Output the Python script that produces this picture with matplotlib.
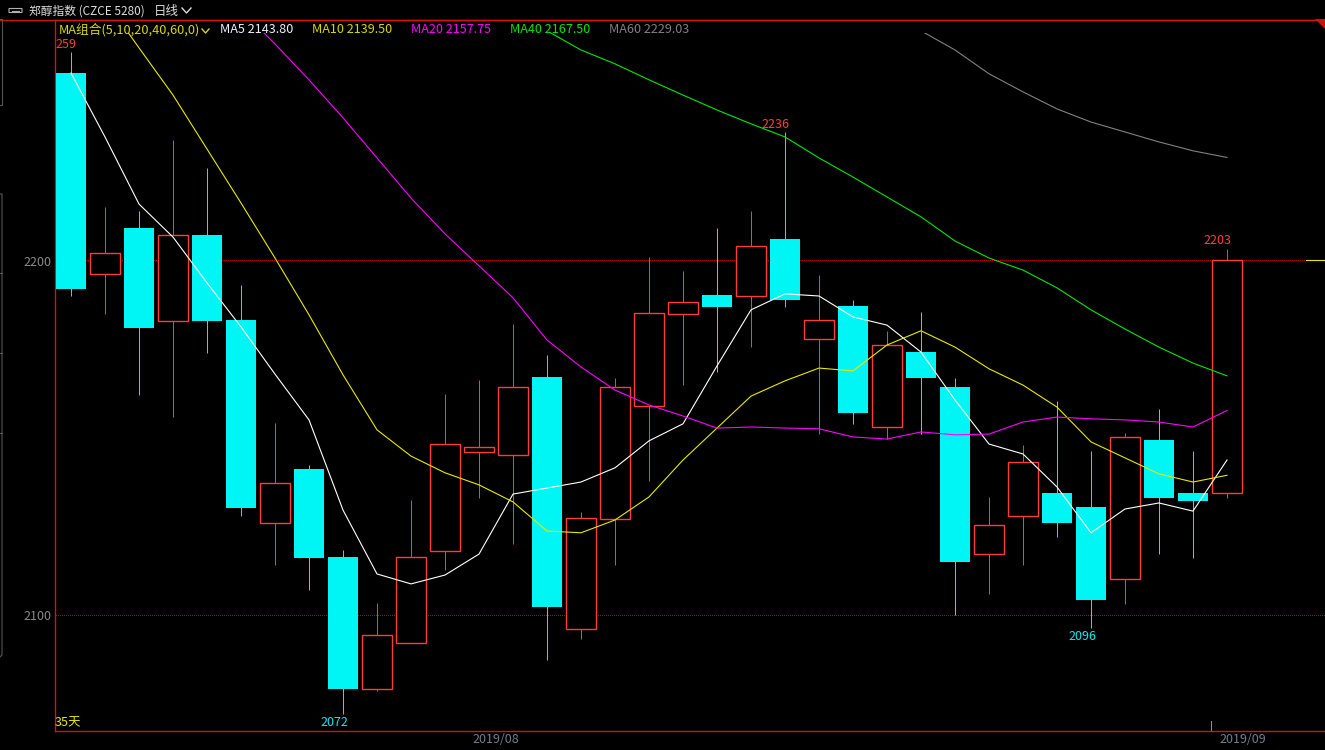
import matplotlib
matplotlib.use("Agg")
import matplotlib.pyplot as plt
from matplotlib.patches import Rectangle, Polygon, FancyBboxPatch

plt.rcParams['font.family'] = ['Noto Sans CJK SC', 'DejaVu Sans']

highs = [2258.7,2215.1,2214.0,2234.0,2226.1,2193.1,2154.2,2142.4,2118.5,2103.5,2132.5,2162.4,2166.4,2182.1,2173.4,2129.2,2166.9,2201.0,2197.1,2209.2,2214.0,2236.2,2195.9,2188.9,2180.2,2185.5,2166.9,2133.4,2148.0,2160.4,2146.4,2151.4,2158.2,2146.4,2203.3]
lows = [2190.0,2184.9,2162.1,2155.9,2174.0,2128.0,2114.2,2107.2,2072.3,2078.7,2092.3,2112.8,2133.1,2120.2,2087.5,2093.4,2114.2,2137.9,2164.9,2168.6,2175.6,2186.9,2151.1,2154.0,2149.7,2151.1,2100.2,2106.1,2114.2,2122.1,2096.5,2103.3,2117.3,2116.2,2133.1]
opens = [2252.8,2196.2,2209.2,2183.0,2207.2,2183.3,2126.1,2141.3,2116.5,2079.3,2092.3,2118.2,2146.1,2145.2,2167.2,2096.2,2127.2,2159.0,2184.9,2190.3,2190.0,2206.1,2177.9,2187.2,2153.1,2174.2,2164.4,2117.3,2128.0,2134.5,2130.6,2110.3,2149.5,2134.5,2134.5]
closes = [2192.0,2202.1,2181.0,2207.2,2183.0,2130.3,2137.3,2116.2,2079.3,2094.5,2116.5,2148.3,2147.5,2164.4,2102.4,2127.5,2164.4,2185.2,2188.3,2186.9,2204.1,2188.9,2183.3,2157.1,2176.2,2166.9,2115.1,2125.5,2143.3,2126.1,2104.4,2150.3,2133.1,2132.3,2200.2]

ma5 = [2252.8,2234.8,2215.9,2206.6,2193.7,2181.3,2168.0,2155.1,2129.7,2111.7,2108.9,2111.4,2117.3,2134.2,2135.9,2137.6,2141.6,2149.2,2154.0,2170.3,2186.1,2190.6,2190.0,2184.1,2181.8,2174.2,2160.7,2148.3,2145.5,2136.2,2123.3,2130.0,2131.7,2129.4,2143.80]
ma10 = [None,2273.4,2259.9,2246.6,2231.4,2216.2,2200.7,2184.7,2167.8,2152.3,2144.9,2140.2,2136.8,2132.0,2123.8,2123.3,2126.9,2133.4,2143.8,2152.8,2161.8,2166.1,2169.7,2168.9,2176.2,2180.2,2175.6,2169.5,2164.9,2158.7,2148.9,2144.4,2139.9,2137.6,2139.50]
ma20 = [None]*5 + [2270.6,2261.0,2250.9,2240.2,2228.9,2217.6,2207.5,2198.5,2189.5,2177.6,2170.0,2163.5,2159.3,2156.2,2152.8,2153.1,2152.8,2152.6,2150.3,2149.7,2151.7,2150.9,2151.1,2154.5,2155.9,2155.4,2155.1,2154.5,2153.1,2157.75]
ma40 = [None]*14 + [2264.7,2259.3,2255.4,2250.9,2246.6,2242.4,2238.5,2234.8,2228.9,2223.5,2217.9,2212.3,2205.5,2200.7,2197.3,2192.3,2186.1,2180.7,2175.6,2171.1,2167.50]
ma60 = [None]*25 + [2264.7,2259.3,2252.6,2247.5,2242.7,2239.0,2236.2,2233.4,2230.9,2229.03]

hlines = [2200, 2100]
title = "郑醇指数 (CZCE 5280)"
period = "日线"
date_labels = ["2019/08", "2019/09"]
date_pos = [12.5, 34.47]
peak_labels = [(0, 2258.7, "259", "#ff3c3c"), (21, 2236.2, "2236", "#ff3c3c"), (34, 2203.3, "2203", "#ff3c3c")]
trough_labels = [(8, 2072.3, "2072", "#00f0f0"), (30, 2096.5, "2096", "#00f0f0")]

W, H = 1325, 750
CY, RD = "#00f5f5", "#ff3c3c"
fig = plt.figure(figsize=(W/100, H/100), dpi=100, facecolor="black")
L, T, B = 54.5, 19.5, 730.5
ax = fig.add_axes([L/W, 1-B/H, (W-L)/W, (B-T)/H], facecolor="black")
ax.set_xlim((L-71)/34, (W-71)/34)
ax.set_ylim(2200-(B-260.5)/3.55, 2200+(260.5-T)/3.55)
px = 0.72
ax.spines["right"].set_visible(False)
for s in ("left", "top", "bottom"):
    ax.spines[s].set_color("#d01414")
    ax.spines[s].set_linewidth(1.0)
ax.set_yticks(hlines)
ax.set_yticklabels([str(v) for v in hlines], color="#8a8a8a", fontsize=9)
ax.tick_params(axis="y", length=0, pad=2)
ax.set_xticks(date_pos)
ax.set_xticklabels(date_labels, color="#6f7f8a", fontsize=9)
ax.tick_params(axis="x", length=0, pad=2)

for v in hlines:
    gl = ax.axhline(v, color="#c00000", lw=px, ls=(0.5, (1, 1)), zorder=1)
    gl.set_snap(False)

xs = list(range(len(opens)))
for i in xs:
    up = closes[i] > opens[i]
    c = RD if up else CY
    ax.vlines(i, lows[i], highs[i], color=c if up else "#28dede", lw=px, zorder=2)
    top, bot = max(opens[i], closes[i]), min(opens[i], closes[i])
    ax.bar(i, top-bot, bottom=bot, width=0.9 if up else 0.91,
           facecolor="black" if up else CY, edgecolor=c, linewidth=1.0 if up else 0, zorder=3)

clip = Rectangle((-1, 2000), 40, 264.1, transform=ax.transData)
series = [(ma5, "#ffffff"), (ma10, "#e8e800"), (ma20, "#ff00ff"), (ma40, "#00e800"), (ma60, "#808080")]
for vals, col in series:
    pts = [(i, v) for i, v in enumerate(vals) if v is not None]
    line, = ax.plot([p[0] for p in pts], [p[1] for p in pts], color=col, lw=0.8, zorder=5)
    line.set_clip_path(clip)

for i, v, s, c in peak_labels:
    ax.annotate(s, (i, v), xytext=(-4 if i == 0 else -6.5, 1), textcoords="offset points",
                ha="center", va="bottom", color=c, fontsize=9, zorder=6)
for i, v, s, c in trough_labels:
    ax.annotate(s, (i, v), xytext=(-6.5, -1.5), textcoords="offset points",
                ha="center", va="top", color=c, fontsize=9, zorder=6)

def ftext(x, y, s, color, size=9, **kw):
    fig.text(x/W, 1-(y+1.5)/H, s, color=color, fontsize=size, va="center", **kw)

ftext(29, 9.5, title, "#dcdcdc", 8.5)
ftext(154, 9.5, period, "#dcdcdc", 9)
ftext(59, 28, "MA组合(5,10,20,40,60,0)", "#d8d800", 9.2)
legend = [(220, "MA5", ma5, "#e8f4ff"), (312, "MA10", ma10, "#d8d800"), (411, "MA20", ma20, "#ff00ff"),
          (510, "MA40", ma40, "#00e800"), (609, "MA60", ma60, "#808080")]
for x, name, vals, col in legend:
    ftext(x, 28, f"{name} {vals[-1]:.2f}", col, 9.1)
ftext(55, 721, "35天", "#e8e800", 9)

def seg(xa, ya, col, lw=0.8):
    fig.add_artist(plt.Line2D([a/W for a in xa], [1-b/H for b in ya], color=col, lw=lw))

seg([182, 186.5, 191], [8, 13, 8], "#dcdcdc", 1.0)
seg([202, 205.5, 209], [29, 33, 29], "#d8d800", 1.0)
fig.add_artist(FancyBboxPatch((9/W, 1-12.5/H), 13/W, 4/H, boxstyle="round,pad=0",
                              transform=fig.transFigure, facecolor="none", edgecolor="#b0b0b0", linewidth=0.8))
seg([12, 19], [10.5, 10.5], "#b0b0b0")
seg([1210.5, 1210.5], [721, 730], "#8a8a8a")
seg([1306, 1325], [260.5, 260.5], "#e8e800")
seg([0, 1325], [19.5, 19.5], "#d01414", 1.0)
fig.add_artist(Polygon([(1315/W, 1-19/H), (1325/W, 1-19/H), (1325/W, 1-29/H)], closed=True,
                       transform=fig.transFigure, facecolor="#c81400", edgecolor="none"))
seg([0, 2, 2, 0], [19, 19, 105, 105], "#555555")
seg([0, 2, 2, 0], [194, 194, 655, 657], "#555555")
for y in (273, 353, 433):
    seg([0, 2], [y, y], "#555555")

fig.savefig("out.png", dpi=100, facecolor="black")
